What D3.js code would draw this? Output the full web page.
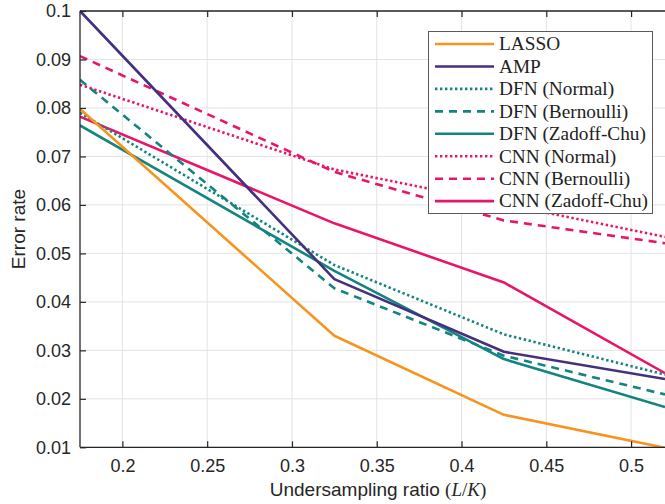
<!DOCTYPE html>
<html>
<head>
<meta charset="utf-8">
<script src="https://cdn.jsdelivr.net/npm/d3@7"></script>
<style>
  html, body { margin: 0; padding: 0; background: #fff; }
  svg { display: block; }
</style>
</head>
<body>
<svg id="chart" width="665" height="504"></svg>
<script>
// Undersampling ratios at which each method was evaluated
const ratios = [0.175, 0.325, 0.425, 0.52];

// Error rate per method
const lasso        = [0.0798, 0.0330, 0.0167, 0.0099];
const amp          = [0.1000, 0.0447, 0.0297, 0.0241];
const dfnNormal    = [0.0790, 0.0476, 0.0333, 0.0250];
const dfnBernoulli = [0.0858, 0.0428, 0.0289, 0.0209];
const dfnZadoff    = [0.0764, 0.0464, 0.0282, 0.0183];
const cnnNormal    = [0.0848, 0.0673, 0.0602, 0.0534];
const cnnBernoulli = [0.0907, 0.0668, 0.0568, 0.0521];
const cnnZadoff    = [0.0782, 0.0562, 0.0440, 0.0253];

const seriesNames = ["LASSO", "AMP", "DFN (Normal)", "DFN (Bernoulli)", "DFN (Zadoff-Chu)",
                     "CNN (Normal)", "CNN (Bernoulli)", "CNN (Zadoff-Chu)"];
const seriesValues = [lasso, amp, dfnNormal, dfnBernoulli, dfnZadoff, cnnNormal, cnnBernoulli, cnnZadoff];

const xTicks = [0.2, 0.25, 0.3, 0.35, 0.4, 0.45, 0.5];
const yTicks = [0.01, 0.02, 0.03, 0.04, 0.05, 0.06, 0.07, 0.08, 0.09, 0.1];

// Line styling per series
const orange = "#f7941d", purple = "#45307f", teal = "#13847f", pink = "#e8166a";
const styles = [
  { color: orange, dash: null },
  { color: purple, dash: null },
  { color: teal,   dash: "2.4,2.6" },
  { color: teal,   dash: "8,6" },
  { color: teal,   dash: null },
  { color: pink,   dash: "2.4,2.6" },
  { color: pink,   dash: "8,6" },
  { color: pink,   dash: null }
];

const svg = d3.select("#chart");
const plotLeft = 80, plotRight = 665, plotTop = 11, plotBottom = 447.3;

const x = d3.scaleLinear().domain([0.175, 0.52]).range([plotLeft, plotRight]);
const y = d3.scaleLinear().domain([0.01, 0.1]).range([plotBottom, plotTop]);

const axisColor = "#262626";
const tickFont = "'Liberation Sans', Arial, sans-serif";

// Grid
const grid = svg.append("g");
grid.selectAll("line.gx").data(xTicks).join("line")
  .attr("x1", d => x(d)).attr("x2", d => x(d))
  .attr("y1", plotTop).attr("y2", plotBottom)
  .attr("stroke", "#e3e3e3").attr("stroke-width", 1);
grid.selectAll("line.gy").data(yTicks).join("line")
  .attr("x1", plotLeft).attr("x2", plotRight)
  .attr("y1", d => y(d)).attr("y2", d => y(d))
  .attr("stroke", "#e3e3e3").attr("stroke-width", 1);

// Series lines
svg.append("clipPath").attr("id", "plotClip")
  .append("rect").attr("x", plotLeft).attr("y", plotTop - 2)
  .attr("width", plotRight - plotLeft).attr("height", plotBottom - plotTop + 2);

const line = d3.line().x((d, i) => x(ratios[i])).y(d => y(d));
const plot = svg.append("g").attr("clip-path", "url(#plotClip)");
// draw in reverse so LASSO / AMP end up on top
seriesValues.map((v, i) => i).reverse().forEach(i => {
  plot.append("path")
    .datum(seriesValues[i])
    .attr("d", line)
    .attr("fill", "none")
    .attr("stroke", styles[i].color)
    .attr("stroke-width", 2.6)
    .attr("stroke-linejoin", "round")
    .attr("stroke-dasharray", styles[i].dash);
});

// Axes (ticks pointing inward)
const fmt = d => String(+d.toFixed(2));
const xAxis = svg.append("g").attr("transform", `translate(0,${plotBottom})`)
  .call(d3.axisBottom(x).tickValues(xTicks).tickSize(-6).tickPadding(12).tickFormat(fmt));
const xAxisTop = svg.append("g").attr("transform", `translate(0,${plotTop})`)
  .call(d3.axisTop(x).tickValues(xTicks).tickSize(-6).tickFormat(""));
const yAxis = svg.append("g").attr("transform", `translate(${plotLeft},0)`)
  .call(d3.axisLeft(y).tickValues(yTicks).tickSize(-6).tickPadding(9).tickFormat(fmt));

[xAxis, xAxisTop, yAxis].forEach(g => {
  g.select(".domain").attr("stroke", axisColor).attr("stroke-width", 1.3);
  g.selectAll(".tick line").attr("stroke", axisColor).attr("stroke-width", 1.2);
  g.selectAll(".tick text").attr("fill", axisColor)
    .style("font-family", tickFont).style("font-size", "18px");
});
xAxisTop.select(".domain").attr("d", `M${plotLeft},0H${plotRight}`);
xAxis.select(".domain").attr("d", `M${plotLeft},0H${plotRight}`);
yAxis.select(".domain").attr("d", `M0,${plotTop}V${plotBottom}`);

// Axis titles
svg.append("text")
  .attr("transform", `translate(25,229) rotate(-90)`)
  .attr("text-anchor", "middle")
  .attr("fill", axisColor)
  .style("font-family", tickFont).style("font-size", "19px")
  .text("Error rate");

const xt = svg.append("text")
  .attr("x", 378).attr("y", 496)
  .attr("text-anchor", "middle")
  .attr("fill", axisColor)
  .style("font-family", tickFont).style("font-size", "19px");
xt.append("tspan").text("Undersampling ratio ");
xt.append("tspan").style("font-family", "'Liberation Serif', serif").text("(");
xt.append("tspan").style("font-family", "'Liberation Serif', serif").style("font-style", "italic").text("L");
xt.append("tspan").style("font-family", "'Liberation Serif', serif").text("/");
xt.append("tspan").style("font-family", "'Liberation Serif', serif").style("font-style", "italic").text("K");
xt.append("tspan").style("font-family", "'Liberation Serif', serif").text(")");

// Legend
const lg = svg.append("g");
lg.append("rect")
  .attr("x", 428.5).attr("y", 31.5).attr("width", 224).attr("height", 182)
  .attr("fill", "#fff").attr("stroke", "#5a5a5a").attr("stroke-width", 1);
seriesNames.forEach((name, i) => {
  const cy = 44 + i * 22.45;
  lg.append("line")
    .attr("x1", 435).attr("x2", 494).attr("y1", cy).attr("y2", cy)
    .attr("stroke", styles[i].color).attr("stroke-width", 2.6)
    .attr("stroke-dasharray", styles[i].dash);
  lg.append("text")
    .attr("x", 499).attr("y", cy + 6.3)
    .attr("fill", "#222")
    .style("font-family", "'Liberation Serif', 'Times New Roman', serif")
    .style("font-size", "19.3px")
    .text(name);
});
</script>
</body>
</html>
